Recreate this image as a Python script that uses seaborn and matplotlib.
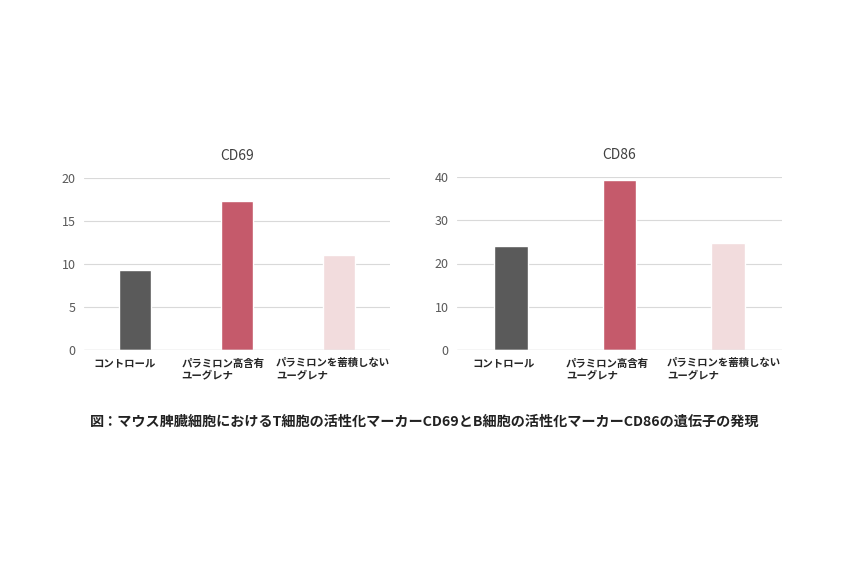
import pandas as pd
import matplotlib.pyplot as plt
import matplotlib.transforms as mtransforms
import seaborn as sns

# Data
groups = ['コントロール', 'パラミロン高含有\nユーグレナ', 'パラミロンを蓄積しない\nユーグレナ']
cd69_values = [9.3, 17.3, 11.0]
cd86_values = [24.0, 39.3, 24.7]
bar_colors = ['#5a5a5a', '#c55a6b', '#f2dcdd']
caption = '図：マウス脾臓細胞におけるT細胞の活性化マーカーCD69とB細胞の活性化マーカーCD86の遺伝子の発現'

sns.set_theme(style='white')
plt.rcParams['font.family'] = ['Noto Sans CJK JP', 'DejaVu Sans']

fig = plt.figure(figsize=(8.5, 5.67), dpi=100)
ax1 = fig.add_axes([84 / 850, 1 - 350 / 567, 306 / 850, 172 / 567])
ax2 = fig.add_axes([457 / 850, 1 - 350 / 567, 325 / 850, 173 / 567])

panels = [
    (ax1, 'CD69', cd69_values, [0, 5, 10, 15, 20], [-10, -14, -6]),
    (ax2, 'CD86', cd86_values, [0, 10, 20, 30, 40], [-8, -12, -4]),
]

for ax, title, vals, ticks, shifts in panels:
    df = pd.DataFrame({'group': groups, 'value': vals})
    sns.barplot(data=df, x='group', y='value', hue='group', palette=bar_colors,
                width=0.31, legend=False, ax=ax, saturation=1)
    ax.set_ylim(0, ticks[-1])
    ax.set_yticks(ticks)
    ax.set_xlim(-0.5, 2.5)
    ax.grid(axis='y', color='#d9d9d9', linewidth=0.8)
    ax.set_axisbelow(True)
    for s in ax.spines.values():
        s.set_visible(False)
    ax.tick_params(axis='both', length=0)
    ax.tick_params(axis='y', labelsize=9, labelcolor='#595959', pad=6)
    ax.tick_params(axis='x', labelsize=7.5, pad=6)
    for lab, dx in zip(ax.get_xticklabels(), shifts):
        lab.set_fontweight('bold')
        lab.set_multialignment('left')
        lab.set_verticalalignment('top')
        lab.set_transform(lab.get_transform() +
                          mtransforms.ScaledTranslation(dx / 100, 0, fig.dpi_scale_trans))
    ax.set_xlabel('')
    ax.set_ylabel('')
    ax.set_title(title, fontsize=10, color='#404040', pad=13)
    ax.axhline(0, color='#d9d9d9', linewidth=1)

fig.text(0.5, 1 - 422 / 567, caption, ha='center', va='center',
         fontsize=10.2, color='#222222', fontweight='bold')

fig.savefig('out.png', dpi=100, facecolor='white')
